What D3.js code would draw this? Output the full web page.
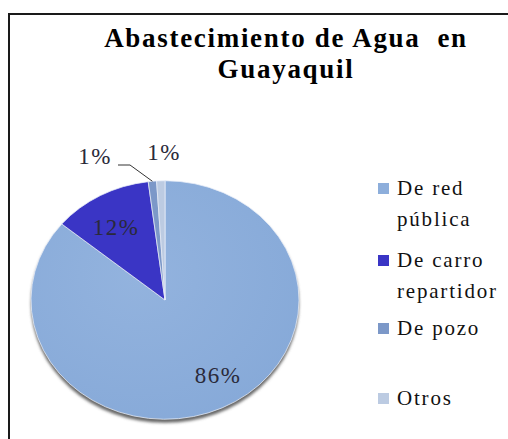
<!DOCTYPE html>
<html>
<head>
<meta charset="utf-8">
<script src="https://cdn.jsdelivr.net/npm/d3@7"></script>
<style>
	body { margin: 0; background: #fff; }
	svg { display: block; }
	text { font-family: "Liberation Serif", "DejaVu Serif", "Noto Serif", serif; }
</style>
</head>
<body>
<div id="chart"></div>
<script>
// chart values
var categories = ["De red pública", "De carro repartidor", "De pozo", "Otros"];
var legendLines = [["De red", "pública"], ["De carro", "repartidor"], ["De pozo"], ["Otros"]];
var values = [86, 12, 1, 1];
var colors = ["#8daedb", "#3a35c5", "#7c98c8", "#bccbe2"];
var titleLines = ["Abastecimiento de Agua  en", "Guayaquil"];

var width = 508, height = 439;
var cx = 165, cy = 300, r = 134, squash = 0.89;

var svg = d3.select("#chart")
	.append("svg")
	.attr("width", width)
	.attr("height", height);

// (frame) border, open on right and bottom
svg.append("path")
	.attr("d", "M9,439 L9,14 L508,14")
	.attr("fill", "none")
	.attr("stroke", "#1a1a1a")
	.attr("stroke-width", 2);

// (title)
svg.append("g")
	.selectAll("text")
	.data(titleLines)
	.enter()
	.append("text")
	.attr("x", 286)
	.attr("y", function(d, i) { return 47 + i * 31; })
	.attr("text-anchor", "middle")
	.attr("font-weight", "bold")
	.attr("font-size", "27px")
	.attr("letter-spacing", "1.7px")
	.attr("fill", "#000")
	.style("white-space", "pre")
	.text(function(d) { return d; });

var defs = svg.append("defs");
defs.append("filter")
	.attr("id", "blur")
	.append("feGaussianBlur")
	.attr("stdDeviation", 1.5);

var grad = defs.append("radialGradient")
	.attr("id", "bigGrad")
	.attr("cx", "0.4").attr("cy", "0.4").attr("r", "0.7");
grad.append("stop").attr("offset", "0%").attr("stop-color", "#93b3de");
grad.append("stop").attr("offset", "100%").attr("stop-color", "#86a9d8");

var pie = d3.pie().sort(null).value(function(d) { return d; });
var arcs = pie(values);
var arc = d3.arc().innerRadius(0).outerRadius(r);

var g = svg.append("g")
	.attr("transform", "translate(" + cx + "," + cy + ") scale(1," + squash + ")");

// (shadow) under the pie
g.append("ellipse")
	.attr("cx", 0)
	.attr("cy", 4)
	.attr("rx", r)
	.attr("ry", r)
	.attr("fill", "#666")
	.attr("filter", "url(#blur)");

g.selectAll("path.slice")
	.data(arcs)
	.enter()
	.append("path")
	.attr("class", "slice")
	.attr("d", arc)
	.attr("fill", function(d, i) { return i === 0 ? "url(#bigGrad)" : colors[i]; })
	.attr("stroke", "#e8eef8")
	.attr("stroke-width", 0.8);

// (labels) percentages
var labelPos = [[218, 383], [116, 235], [95, 164], [164, 160]];
svg.append("g")
	.selectAll("text")
	.data(arcs)
	.enter()
	.append("text")
	.attr("x", function(d, i) { return labelPos[i][0]; })
	.attr("y", function(d, i) { return labelPos[i][1]; })
	.attr("text-anchor", "middle")
	.attr("font-size", "23px")
	.attr("letter-spacing", "1.5px")
	.attr("fill", "#2a2a3a")
	.text(function(d) { return d.data + "%"; });

// (leader) line for De pozo
var mid = (arcs[2].startAngle + arcs[2].endAngle) / 2;
var ex = cx + Math.sin(mid) * r, ey = cy - Math.cos(mid) * r * squash;
svg.append("polyline")
	.attr("points", [[118, 165], [130, 165], [ex, ey]].join(" "))
	.attr("fill", "none")
	.attr("stroke", "#333")
	.attr("stroke-width", 1);

// (legend)
var legendY = [195, 267, 335, 405];
var legend = svg.append("g")
	.selectAll("g")
	.data(categories)
	.enter()
	.append("g")
	.attr("transform", function(d, i) { return "translate(378," + legendY[i] + ")"; });
legend.append("rect")
	.attr("x", 0)
	.attr("y", -12)
	.attr("width", 11)
	.attr("height", 11)
	.attr("fill", function(d, i) { return colors[i]; });
legend.append("text")
	.attr("font-size", "21px")
	.attr("letter-spacing", "1.8px")
	.attr("fill", "#111")
	.selectAll("tspan")
	.data(function(d, i) { return legendLines[i]; })
	.enter()
	.append("tspan")
	.attr("x", 19)
	.attr("y", function(d, j) { return j * 31; })
	.text(function(d) { return d; });
</script>
</body>
</html>
